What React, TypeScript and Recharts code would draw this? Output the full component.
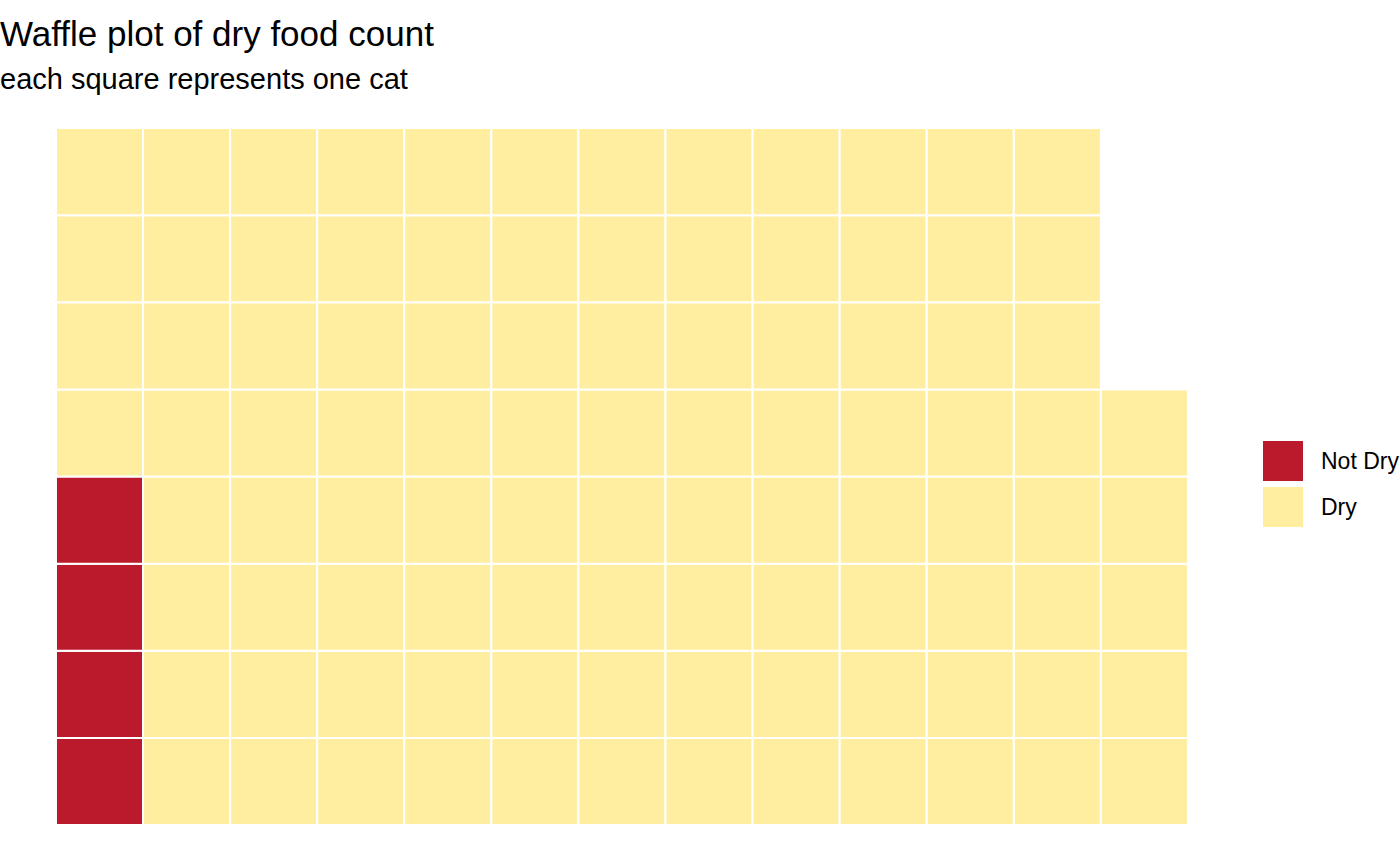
import React from 'react';
import { BarChart, Bar, XAxis, YAxis, Cell } from 'recharts';

// counts per category (one square = one cat)
const categories = ['Not Dry', 'Dry'];
const counts = [4, 97];
const colors = ['#BB192C', '#FFEDA0'];
const rowsPerColumn = 8;
const rowKeys = ['r1', 'r2', 'r3', 'r4', 'r5', 'r6', 'r7', 'r8'];

// squares laid out column by column, bottom to top
const squares: number[] = [];
counts.forEach((n, ci) => {
  for (let i = 0; i < n; i++) squares.push(ci);
});
const nColumns = Math.ceil(squares.length / rowsPerColumn);

type Column = { col: string; cats: (number | null)[]; [key: string]: any };
const data: Column[] = [];
for (let c = 0; c < nColumns; c++) {
  const row: Column = { col: String(c + 1), cats: [] };
  rowKeys.forEach((k, r) => {
    const cat = squares[c * rowsPerColumn + r];
    row[k] = cat === undefined ? 0 : 1;
    row.cats.push(cat === undefined ? null : cat);
  });
  data.push(row);
}

const font = '"Liberation Sans", Arial, Helvetica, sans-serif';

export default function App() {
  return (
    <div style={{ position: 'absolute', left: 0, top: 0, width: 1400, height: 865, background: '#fff', fontFamily: font }}>
      <div style={{ position: 'absolute', left: 0, top: 16, fontSize: 35, lineHeight: 1, color: '#000', whiteSpace: 'nowrap' }}>
        Waffle plot of dry food count
      </div>
      <div style={{ position: 'absolute', left: 0, top: 65, fontSize: 29, lineHeight: 1, color: '#000', whiteSpace: 'nowrap' }}>
        each square represents one cat
      </div>

      <div style={{ position: 'absolute', left: 0, top: 0 }}>
        <BarChart
          width={1400}
          height={865}
          data={data}
          margin={{ top: 128, right: 212, bottom: 40, left: 56 }}
          barCategoryGap={0}
          barGap={0}
        >
          <XAxis dataKey="col" type="category" hide />
          <YAxis type="number" domain={[0, rowsPerColumn]} hide allowDataOverflow />
          {rowKeys.map((k, r) => (
            <Bar key={k} dataKey={k} stackId="w" stroke="#ffffff" strokeWidth={2} isAnimationActive={false}>
              {data.map((d, i) => (
                <Cell key={i} fill={d.cats[r] === null ? 'none' : colors[d.cats[r] as number]} />
              ))}
            </Bar>
          ))}
        </BarChart>
      </div>

      <div style={{ position: 'absolute', left: 1263, top: 441 }}>
        {categories.map((name, i) => (
          <div key={name} style={{ display: 'flex', alignItems: 'center', height: 40, marginBottom: 6 }}>
            <div style={{ width: 40, height: 40, background: colors[i] }} />
            <span style={{ marginLeft: 18, fontSize: 23, color: '#000', whiteSpace: 'nowrap' }}>{name}</span>
          </div>
        ))}
      </div>
    </div>
  );
}
